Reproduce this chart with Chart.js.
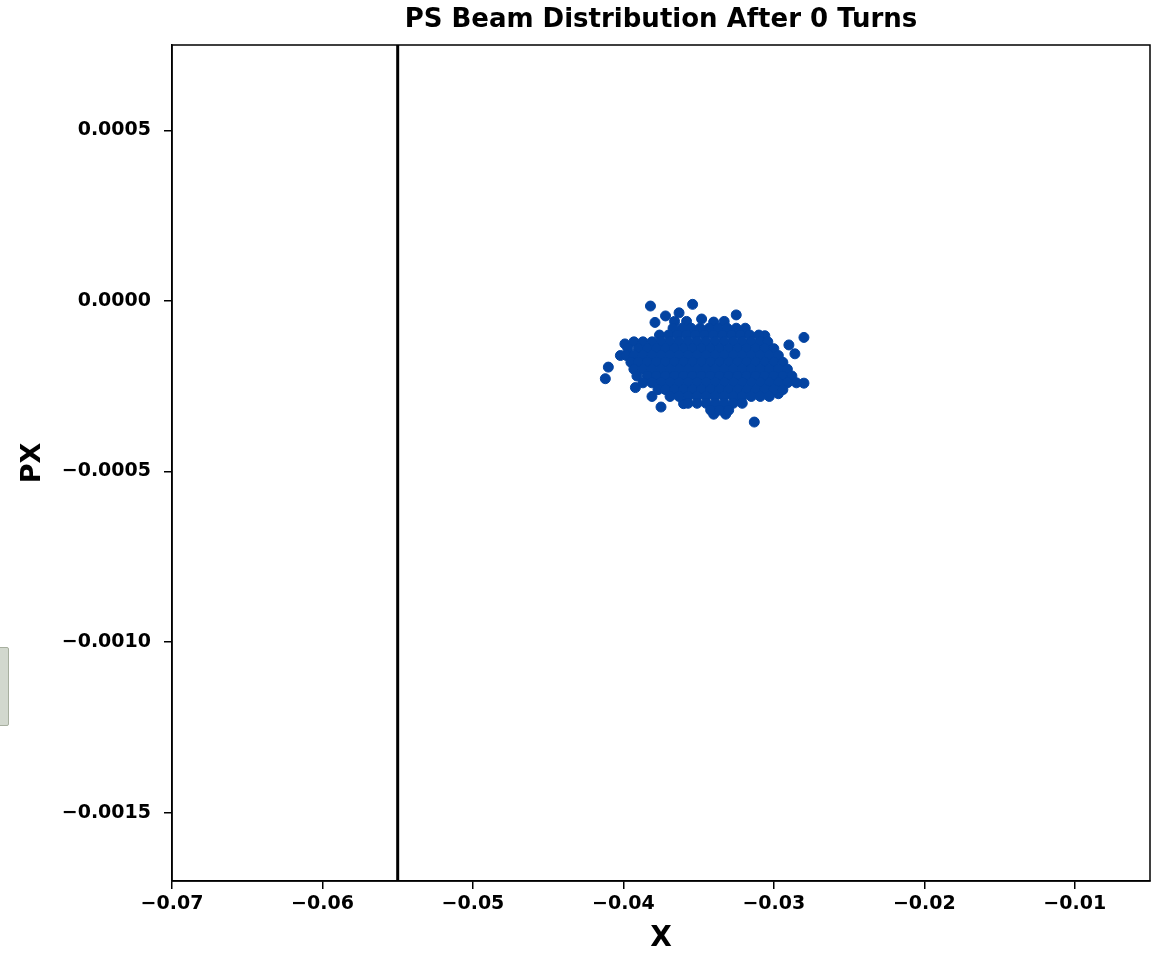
<!DOCTYPE html>
<html><head><meta charset="utf-8">
<script src="https://cdn.jsdelivr.net/npm/chart.js@4.4.1/dist/chart.umd.min.js"></script>
<style>
html,body{margin:0;padding:0;background:#fff;overflow:hidden;}
#wrap{position:relative;width:1160px;height:953px;}
#side{position:absolute;left:-3px;top:647px;width:10px;height:77px;background:#d2d8ce;border:1px solid #a7af9f;border-radius:2px;}
</style></head><body>
<div id="wrap"><canvas id="c" width="1160" height="953"></canvas><div id="side"></div></div>
<script>
const chartTitle = 'PS Beam Distribution After 0 Turns';
const xAxisLabel = 'X';
const yAxisLabel = 'PX';
const xTicks = [-0.07, -0.06, -0.05, -0.04, -0.03, -0.02, -0.01];
const yTicks = [0.0005, 0, -0.0005, -0.001, -0.0015];
const xRange = [-0.07, -0.005];
const yRange = [-0.0017, 0.00075];
const apertureX = -0.055;

const beamX = [
 -0.0382,-0.0354,-0.0325,-0.0280,-0.0290,-0.0286,-0.0280,-0.0313,-0.0410,-0.0412,-0.0392,-0.0381,-0.0375,-0.0340,-0.0332,-0.0363,-0.0372,-0.0379,-0.0348,-0.0399,-0.0402,-0.0306,-0.0297,-0.0323,-0.0360,
 -0.0366,-0.0358,-0.0340,-0.0333,
 -0.0367,-0.0361,-0.0355,-0.0349,-0.0343,-0.0337,-0.0331,-0.0325,-0.0319,
 -0.0376,-0.0370,-0.0364,-0.0358,-0.0352,-0.0346,-0.0340,-0.0334,-0.0328,-0.0322,-0.0316,-0.0310,
 -0.0393,-0.0387,-0.0381,-0.0375,-0.0369,-0.0363,-0.0357,-0.0351,-0.0345,-0.0339,-0.0333,-0.0327,-0.0321,-0.0315,-0.0309,-0.0304,
 -0.0397,-0.0390,-0.0384,-0.0378,-0.0372,-0.0366,-0.0360,-0.0354,-0.0348,-0.0342,-0.0336,-0.0330,-0.0324,-0.0318,-0.0312,-0.0306,-0.0300,
 -0.0398,-0.0393,-0.0387,-0.0381,-0.0375,-0.0369,-0.0363,-0.0357,-0.0351,-0.0345,-0.0339,-0.0333,-0.0327,-0.0321,-0.0315,-0.0309,-0.0303,-0.0297,
 -0.0395,-0.0390,-0.0384,-0.0378,-0.0372,-0.0366,-0.0360,-0.0354,-0.0348,-0.0342,-0.0336,-0.0330,-0.0324,-0.0318,-0.0312,-0.0306,-0.0300,-0.0294,
 -0.0393,-0.0387,-0.0381,-0.0375,-0.0369,-0.0363,-0.0357,-0.0351,-0.0345,-0.0339,-0.0333,-0.0327,-0.0321,-0.0315,-0.0309,-0.0303,-0.0297,-0.0291,
 -0.0391,-0.0384,-0.0378,-0.0372,-0.0366,-0.0360,-0.0354,-0.0348,-0.0342,-0.0336,-0.0330,-0.0324,-0.0318,-0.0312,-0.0306,-0.0300,-0.0294,-0.0288,
 -0.0387,-0.0381,-0.0375,-0.0369,-0.0363,-0.0357,-0.0351,-0.0345,-0.0339,-0.0333,-0.0327,-0.0321,-0.0315,-0.0309,-0.0303,-0.0297,-0.0291,-0.0285,
 -0.0377,-0.0372,-0.0366,-0.0360,-0.0354,-0.0348,-0.0342,-0.0336,-0.0330,-0.0324,-0.0318,-0.0312,-0.0306,-0.0300,-0.0294,
 -0.0369,-0.0363,-0.0357,-0.0351,-0.0345,-0.0339,-0.0333,-0.0327,-0.0321,-0.0315,-0.0309,-0.0303,
 -0.0357,-0.0351,-0.0345,-0.0339,-0.0333,-0.0327,-0.0321,
 -0.0342,-0.0336,-0.0330
];
const beamPX = [
 -0.000015,-0.00001,-0.000041,-0.000107,-0.000129,-0.000155,-0.000241,-0.000355,-0.000194,-0.000228,-0.000254,-0.00028,-0.000311,-0.000332,-0.000332,-0.000035,-0.000044,-0.000063,-0.000053,-0.000126,-0.00016,-0.000102,-0.000272,-0.000282,-0.000301,
 -0.00006,-0.00006,-0.000062,-0.00006,
 -0.00008,-0.00008,-0.00008,-0.00008,-0.00008,-0.00008,-0.00008,-0.00008,-0.00008,
 -0.0001,-0.0001,-0.0001,-0.0001,-0.0001,-0.0001,-0.0001,-0.0001,-0.0001,-0.0001,-0.0001,-0.0001,
 -0.00012,-0.00012,-0.00012,-0.00012,-0.00012,-0.00012,-0.00012,-0.00012,-0.00012,-0.00012,-0.00012,-0.00012,-0.00012,-0.00012,-0.00012,-0.00012,
 -0.00014,-0.00014,-0.00014,-0.00014,-0.00014,-0.00014,-0.00014,-0.00014,-0.00014,-0.00014,-0.00014,-0.00014,-0.00014,-0.00014,-0.00014,-0.00014,-0.00014,
 -0.00016,-0.00016,-0.00016,-0.00016,-0.00016,-0.00016,-0.00016,-0.00016,-0.00016,-0.00016,-0.00016,-0.00016,-0.00016,-0.00016,-0.00016,-0.00016,-0.00016,-0.00016,
 -0.00018,-0.00018,-0.00018,-0.00018,-0.00018,-0.00018,-0.00018,-0.00018,-0.00018,-0.00018,-0.00018,-0.00018,-0.00018,-0.00018,-0.00018,-0.00018,-0.00018,-0.00018,
 -0.0002,-0.0002,-0.0002,-0.0002,-0.0002,-0.0002,-0.0002,-0.0002,-0.0002,-0.0002,-0.0002,-0.0002,-0.0002,-0.0002,-0.0002,-0.0002,-0.0002,-0.0002,
 -0.00022,-0.00022,-0.00022,-0.00022,-0.00022,-0.00022,-0.00022,-0.00022,-0.00022,-0.00022,-0.00022,-0.00022,-0.00022,-0.00022,-0.00022,-0.00022,-0.00022,-0.00022,
 -0.00024,-0.00024,-0.00024,-0.00024,-0.00024,-0.00024,-0.00024,-0.00024,-0.00024,-0.00024,-0.00024,-0.00024,-0.00024,-0.00024,-0.00024,-0.00024,-0.00024,-0.00024,
 -0.00026,-0.00026,-0.00026,-0.00026,-0.00026,-0.00026,-0.00026,-0.00026,-0.00026,-0.00026,-0.00026,-0.00026,-0.00026,-0.00026,-0.00026,
 -0.00028,-0.00028,-0.00028,-0.00028,-0.00028,-0.00028,-0.00028,-0.00028,-0.00028,-0.00028,-0.00028,-0.00028,
 -0.0003,-0.0003,-0.0003,-0.0003,-0.0003,-0.0003,-0.0003,
 -0.00032,-0.00032,-0.00032
];

const FONT = "'DejaVu Sans', sans-serif";
const fmt = (v, d) => (v < 0 ? '\u2212' : '') + Math.abs(v).toFixed(d);

const frame = {
  id: 'frame',
  afterDatasetsDraw(chart) {
    const a = chart.chartArea, ctx = chart.ctx;
    ctx.save();
    ctx.strokeStyle = '#000';
    ctx.lineWidth = 1.5;
    ctx.strokeRect(a.left, a.top, a.right - a.left, a.bottom - a.top);
    ctx.restore();
  }
};

new Chart(document.getElementById('c'), {
  data: {
    datasets: [
      {
        type: 'line',
        data: [{x: apertureX, y: yRange[0]}, {x: apertureX, y: yRange[1]}],
        borderColor: '#000', borderWidth: 3, pointRadius: 0, fill: false, order: 2
      },
      {
        type: 'scatter',
        data: beamX.map((x, i) => ({x: x, y: beamPX[i]})),
        backgroundColor: '#0343a1', borderColor: '#0343a1', borderWidth: 1,
        pointRadius: 5, order: 1
      }
    ]
  },
  options: {
    responsive: false, animation: false, devicePixelRatio: 1,
    layout: {padding: {left: 0, right: 10, top: 0, bottom: 0}},
    plugins: {
      legend: {display: false},
      tooltip: {enabled: false},
      title: {
        display: true, text: chartTitle, color: '#000', fullSize: false,
        font: {family: FONT, size: 26, weight: 'bold', lineHeight: 1.2},
        padding: {top: 5, bottom: 8.8}
      }
    },
    scales: {
      x: {
        type: 'linear', min: xRange[0], max: xRange[1],
        afterBuildTicks: s => { s.ticks = xTicks.map(v => ({value: v})); },
        afterFit: s => { s.height = 72; },
        ticks: {callback: v => fmt(v, 2), color: '#000', font: {family: FONT, size: 19, weight: 'bold'}, padding: 4, maxRotation: 0},
        grid: {drawOnChartArea: false, drawTicks: true, tickLength: 8, color: '#000', lineWidth: 1.5},
        border: {color: '#000', width: 1.5},
        title: {display: true, text: xAxisLabel, color: '#000', font: {family: FONT, size: 28, weight: 'bold', lineHeight: 1}, padding: {top: 0, bottom: 0}}
      },
      y: {
        type: 'linear', min: yRange[0], max: yRange[1],
        afterBuildTicks: s => { s.ticks = yTicks.map(v => ({value: v})); },
        afterFit: s => { s.width = 172; },
        ticks: {callback: v => fmt(v, 4), color: '#000', font: {family: FONT, size: 19, weight: 'bold'}, padding: 13},
        grid: {drawOnChartArea: false, drawTicks: true, tickLength: 8, color: '#000', lineWidth: 1.5},
        border: {color: '#000', width: 1.5},
        title: {display: true, text: yAxisLabel, color: '#000', font: {family: FONT, size: 27, weight: 'bold', lineHeight: 1}, padding: {top: 19.5, bottom: 0}}
      }
    }
  },
  plugins: [frame]
});
</script>
</body></html>
